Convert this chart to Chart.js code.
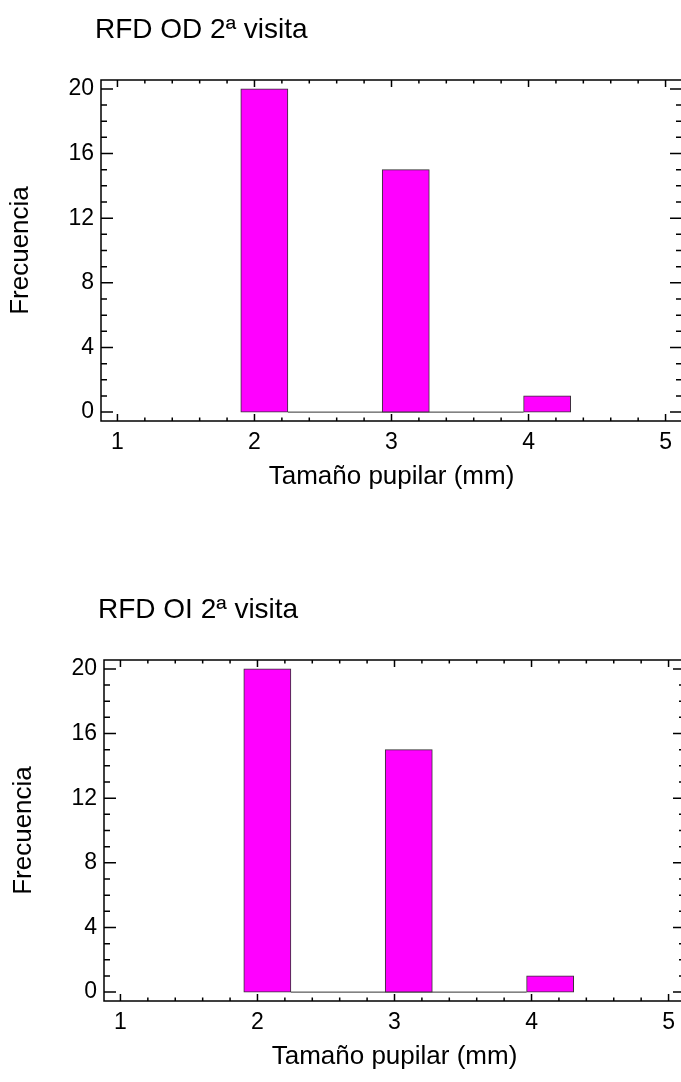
<!DOCTYPE html>
<html>
<head>
<meta charset="utf-8">
<script src="https://cdn.jsdelivr.net/npm/chart.js@4.4.0/dist/chart.umd.min.js"></script>
<style>
  html, body { margin: 0; padding: 0; background: #fff; overflow: hidden; width: 681px; height: 1082px; }
  .wrap { position: absolute; }
</style>
</head>
<body>
<div class="wrap" style="left:0;top:0"><canvas id="c1" width="690" height="492"></canvas></div>
<div class="wrap" style="left:3px;top:580px"><canvas id="c2" width="690" height="492"></canvas></div>
<script>
// ---- data ----
const binEdges = [1.9, 2.244, 2.588, 2.932, 3.276, 3.62, 3.964, 4.308];
const countsOD = [20, 0, 0, 15, 0, 0, 1];
const countsOI = [20, 0, 0, 15, 0, 0, 1];
const xTickValues = [1, 2, 3, 4, 5];
const yTickValues = [0, 4, 8, 12, 16, 20];
const chartTitles = ['RFD OD 2ª visita', 'RFD OI 2ª visita'];
const xAxisTitle = 'Tamaño pupilar (mm)';
const yAxisTitle = 'Frecuencia';

const FONT = '"Liberation Sans", Arial, Helvetica, sans-serif';
Chart.defaults.font.family = FONT;
Chart.defaults.color = '#000';

const framePlugin = {
  id: 'frameTicks',
  afterDatasetsDraw(chart) {
    const { ctx, chartArea: a, scales: { x, y } } = chart;
    ctx.save();
    ctx.strokeStyle = '#000';
    ctx.lineWidth = 1.5;
    ctx.strokeRect(a.left, a.top, a.right - a.left, a.bottom - a.top);
    ctx.beginPath();
    // x ticks (major + minor every 0.2)
    for (let k = Math.ceil(x.min * 5); k <= Math.floor(x.max * 5); k++) {
      const px = x.getPixelForValue(k / 5);
      const len = (k % 5 === 0) ? 7 : 3.5;
      ctx.moveTo(px, a.bottom); ctx.lineTo(px, a.bottom - len);
      ctx.moveTo(px, a.top); ctx.lineTo(px, a.top + len);
    }
    // y ticks (major every 4, minor every 1)
    for (let k = Math.ceil(y.min); k <= Math.floor(y.max); k++) {
      const py = y.getPixelForValue(k);
      const len = (k % 4 === 0) ? 12 : 6;
      ctx.moveTo(a.left, py); ctx.lineTo(a.left + len, py);
      ctx.moveTo(a.right, py); ctx.lineTo(a.right - len, py);
    }
    ctx.stroke();
    ctx.restore();
  },
  afterDraw(chart) {
    const { ctx, chartArea: a } = chart;
    const t = chart.options.plugins.frameTicks.text;
    ctx.save();
    ctx.fillStyle = '#000';
    ctx.font = '28px ' + FONT;
    ctx.textBaseline = 'alphabetic';
    ctx.textAlign = 'left';
    ctx.fillText(t, a.left - 6, a.top - 42);
    ctx.restore();
  }
};

function makeChart(id, title, counts) {
  const barData = counts.map((c, i) => ({ x: (binEdges[i] + binEdges[i + 1]) / 2, y: c }));
  const zeroIdx = counts.map((c, i) => c === 0 ? i : -1).filter(i => i >= 0);
  const baseline = [
    { x: binEdges[Math.min(...zeroIdx)], y: 0 },
    { x: binEdges[Math.max(...zeroIdx) + 1], y: 0 }
  ];
  return new Chart(document.getElementById(id), {
    type: 'bar',
    data: {
      datasets: [
        { type: 'line', data: baseline, borderColor: '#333', borderWidth: 1, pointRadius: 0, fill: false, order: 2 },
        { type: 'bar', data: barData, backgroundColor: '#FF00FF', borderColor: '#333', borderWidth: 1,
          borderSkipped: false, barPercentage: 1, categoryPercentage: 1, grouped: false, order: 1 }
      ]
    },
    options: {
      responsive: false,
      animation: false,
      devicePixelRatio: 1,
      layout: { padding: { top: 80, right: 8, bottom: 0, left: 0 } },
      plugins: {
        legend: { display: false },
        tooltip: { enabled: false },
        title: { display: false },
        frameTicks: { text: title }
      },
      scales: {
        x: {
          type: 'linear', min: 0.88, max: 5.12, offset: false,
          grid: { display: false, drawTicks: false, tickLength: 0 },
          border: { display: false },
          afterBuildTicks: s => { s.ticks = xTickValues.map(v => ({ value: v })); },
          afterFit: s => { s.height = 71; },
          ticks: { padding: 8, font: { size: 23 }, color: '#000', maxRotation: 0, autoSkip: false, callback: v => String(v) },
          title: { display: true, text: xAxisTitle, font: { size: 26 }, color: '#000', padding: { top: 0, bottom: 0 } }
        },
        y: {
          type: 'linear', min: -0.55, max: 20.55,
          grid: { display: false, drawTicks: false, tickLength: 0 },
          border: { display: false },
          afterBuildTicks: s => { s.ticks = yTickValues.map(v => ({ value: v })); },
          afterFit: s => { s.width = 101; },
          ticks: { padding: 7, font: { size: 23 }, color: '#000', autoSkip: false, callback: v => String(v) },
          title: { display: true, text: yAxisTitle, font: { size: 26 }, color: '#000', padding: { top: 5, bottom: 0 } }
        }
      }
    },
    plugins: [framePlugin]
  });
}

makeChart('c1', chartTitles[0], countsOD);
makeChart('c2', chartTitles[1], countsOI);
</script>
</body>
</html>
